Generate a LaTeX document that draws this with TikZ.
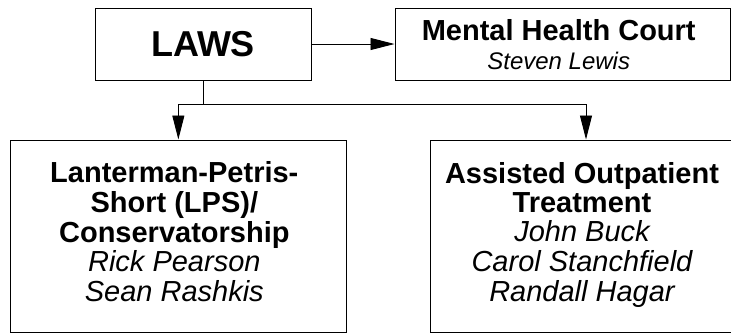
\documentclass[tikz,border=0pt]{standalone}
\usepackage{fontspec}
\setmainfont{Liberation Sans}
\usetikzlibrary{arrows.meta}

\tikzset{
	box/.style={draw, line width=1pt, inner sep=0pt, align=center},
	link/.style={line width=0.9pt},
	arrow/.style={link, -{Triangle[length=24pt,width=12pt]}}
}

\begin{document}
\begin{tikzpicture}[x=1pt,y=-1pt]
			\clip (0,0) rectangle (731,333);
			\node[box, minimum width=216pt, minimum height=72pt, font=\fontsize{36}{40}\selectfont\bfseries] (laws) at (203,44) {LAWS};
			\node[box, minimum width=335.5pt, minimum height=72pt, font=\fontsize{29}{29}\selectfont] (court) at (562.75,44)
			{
				\begin{tabular}{@{}c@{}}
					\bfseries Mental Health Court \\
					\fontsize{24}{29}\selectfont\itshape Steven Lewis \\[-9pt]
				\end{tabular}
			};
			\node[box, minimum width=335.3pt, minimum height=192pt, font=\fontsize{29}{29}\selectfont] (lps) at (178.35,236)
			{
				\begin{tabular}{@{}c@{}}
					\bfseries Lanterman-Petris- \\
					\bfseries Short (LPS)/ \\
					\bfseries Conservatorship \\
					\itshape Rick Pearson \\
					\itshape Sean Rashkis
				\end{tabular}
			};
			\node[box, minimum width=310.6pt, minimum height=192pt, font=\fontsize{29}{29}\selectfont] (aot) at (586,236)
			{
				\begin{tabular}{@{}c@{}}
					\bfseries Assisted Outpatient \\
					\bfseries Treatment \\
					\itshape John Buck \\
					\itshape Carol Stanchfield \\
					\itshape Randall Hagar
				\end{tabular}
			};
			\draw[arrow] (laws) -- (court);
			\draw[link] (laws.south) -- ++(0,24) coordinate (fork);
			\draw[arrow] (fork) -| (lps.north);
			\draw[arrow] (fork) -| (aot.north);
		\end{tikzpicture}
\end{document}
